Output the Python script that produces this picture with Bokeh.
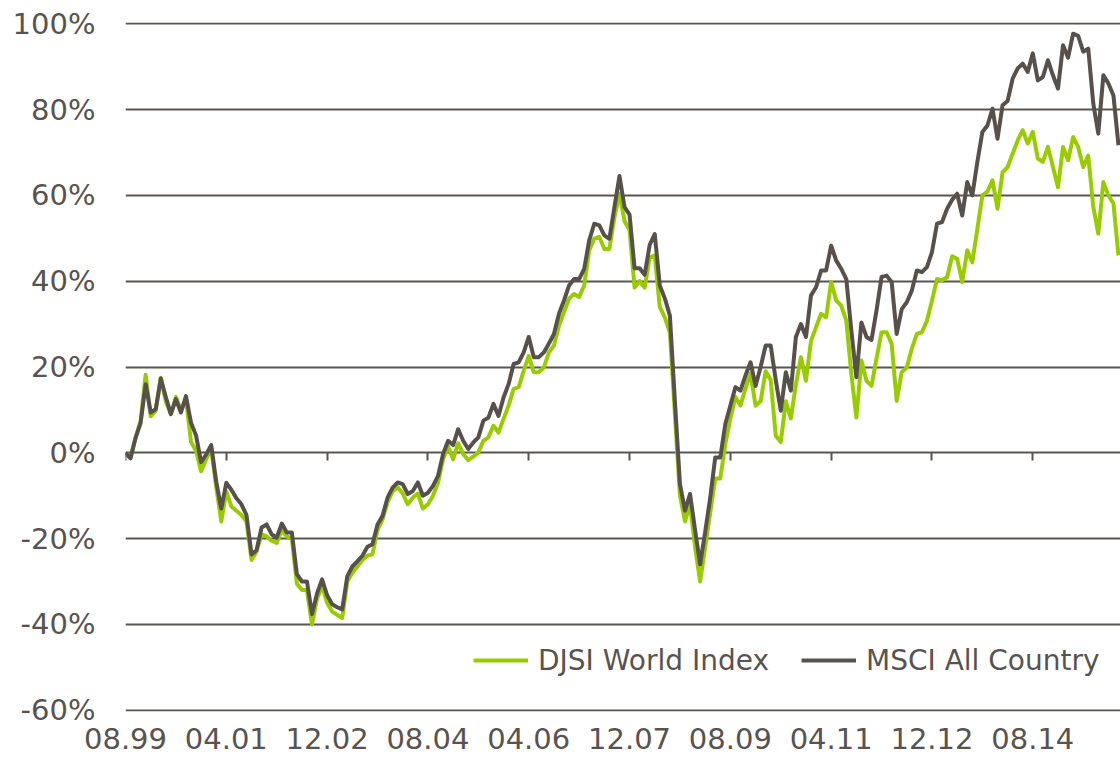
from bokeh.plotting import figure
from bokeh.models import Range1d, LinearAxis, FixedTicker, Legend, LegendItem
from bokeh.embed import file_html
from bokeh.resources import INLINE

# Monthly cumulative performance (%) starting 08.99
djsi = [0, -1, 3.5, 7.5, 18.2, 8.5, 9.8, 17.5, 12, 9,
        13, 10, 12.5, 2.5, 0.5, -4.3, -1.5, 1, -8, -16,
        -9, -12.5, -13.5, -14.5, -16, -25, -23, -19, -19.5, -20.5,
        -21, -18, -19.5, -20, -30.5, -32, -32, -40, -34, -31,
        -35, -37, -37.8, -38.5, -30, -28, -26.5, -25, -24, -23.6,
        -18, -15.5, -11.5, -9, -8, -9.5, -12, -10.5, -9.5, -13,
        -12, -10, -7, -1.5, 1.5, -1.5, 2.2, -0.3, -1.7, -0.9,
        0.1, 2.8, 3.6, 6.3, 4.7, 7.9, 11, 14.9, 15.3, 19.1,
        22.6, 18.8, 18.8, 19.9, 23.4, 25, 29.6, 32.8, 35.9, 37,
        36.3, 39, 47.2, 49.9, 50.3, 47.5, 47.5, 54.9, 60.4, 54,
        52, 38.5, 40, 38.5, 45.5, 46, 34, 31.5, 28, 9,
        -10, -16, -12, -22, -30, -22, -14, -6, -6, 2,
        8, 13, 11, 15, 18.5, 11, 12, 19, 17, 4,
        2.5, 12, 8, 15.9, 22.3, 16.8, 26.1, 29.3, 32.4, 31.6,
        39.8, 35.5, 34.3, 30.8, 18.4, 8.2, 21.5, 16.8, 15.6, 22,
        28.1, 28.1, 25.4, 12.1, 18.8, 19.9, 24.3, 27.7, 28.1, 30.8,
        35.5, 40.5, 40.2, 40.9, 45.8, 45.2, 39.8, 47.2, 44.4, 52.2,
        60, 60.9, 63.5, 56.9, 65.4, 66.6, 69.7, 72.8, 75.2, 72.1,
        74.8, 68.6, 67.8, 71.3, 66.6, 61.9, 71.3, 68.2, 73.6, 71.3,
        66.6, 69.3, 57.3, 51.1, 63.1, 60, 58.1, 46]

msci = [0, -1.3, 3.5, 7, 16, 9.4, 10.2, 17.3, 13, 9,
        12.5, 9.4, 13.2, 7, 4, -2.2, -0.4, 1.8, -6.7, -13,
        -7, -8.6, -10.6, -12, -14.5, -23.7, -22.7, -17.4, -16.7, -19,
        -19.8, -16.5, -18.6, -18.6, -28.3, -30, -30, -37.6, -32.8, -29.5,
        -33.2, -35.3, -36, -36.5, -28.8, -26.5, -25.3, -24, -21.9, -21.3,
        -16.7, -14.7, -10.4, -8.1, -6.9, -7.3, -9.6, -8.9, -6.9, -10,
        -9.3, -7.7, -5.4, -0.3, 2.8, 1.8, 5.5, 2.8, 0.9, 2.4,
        3.6, 7.5, 8.2, 11.4, 8.6, 12.9, 16, 20.7, 21.1, 23.4,
        27, 22.3, 22.3, 23.4, 25.5, 27.7, 32.4, 35.5, 39, 40.5,
        40.5, 42.9, 49.5, 53.4, 53, 50.7, 49.9, 57.3, 64.5, 57.3,
        55.5, 43, 43, 41.5, 48.5, 51, 39, 36, 32, 12,
        -7.3, -13.5, -9.6, -18, -26, -18.5, -10.5, -1.1, -1.1, 6.7,
        11, 15.3, 14.5, 18, 21.1, 15.6, 20, 25, 25, 17,
        9.8, 18.8, 14.5, 27, 30, 27, 36.7, 38.6, 42.5, 42.5,
        48.3, 44.8, 42.9, 40.5, 28.5, 17.6, 30.4, 27, 26.3, 33.2,
        41, 41.3, 39.8, 27.7, 33.5, 35.1, 37.8, 42.5, 42.1, 43.3,
        46.8, 53.4, 53.8, 56.9, 59, 60.4, 55.3, 63.1, 60, 67.8,
        74.8, 76.3, 80.2, 73.2, 81, 82, 87.2, 89.6, 90.7, 88.8,
        93.1, 86.8, 87.6, 91.5, 88, 84.9, 95, 92.1, 97.7, 97.2,
        93.5, 94.2, 81.4, 74.4, 88, 86.1, 83.3, 71.7]

series_names = ["DJSI World Index", "MSCI All Country"]
start_label = "08.99"
x_tick_labels = ["08.99", "04.01", "12.02", "08.04", "04.06",
                 "12.07", "08.09", "04.11", "12.12", "08.14"]
y_ticks = [-60, -40, -20, 0, 20, 40, 60, 80, 100]
y_tick_labels = ["-60%", "-40%", "-20%", "0%", "20%", "40%", "60%", "80%", "100%"]

GREEN = "#99cc00"
DARK = "#57504b"
GRID = "#5a5451"
TEXT = "#595350"
FONT = "DejaVu Sans"


def month_index(lbl):
    mm, yy = lbl.split(".")
    year = 1900 + int(yy) if int(yy) > 50 else 2000 + int(yy)
    m0, y0 = start_label.split(".")
    year0 = 1900 + int(y0) if int(y0) > 50 else 2000 + int(y0)
    return (year - year0) * 12 + int(mm) - int(m0)


months = list(range(len(djsi)))
x_ticks = [month_index(l) for l in x_tick_labels]

p = figure(width=1120, height=762, output_backend="svg", toolbar_location=None,
           x_range=Range1d(0, 197.4), y_range=Range1d(-60.3, 100.3),
           x_axis_type=None,
           min_border_left=125, min_border_right=0,
           min_border_top=22, min_border_bottom=51)
p.outline_line_color = None
p.background_fill_color = "white"
p.border_fill_color = "white"

# y axis
ya = p.yaxis[0]
ya.ticker = FixedTicker(ticks=y_ticks)
ya.major_label_overrides = dict(zip(y_ticks, y_tick_labels))
ya.axis_line_color = None
ya.major_tick_line_color = None
ya.minor_tick_line_color = None
ya.major_tick_out = 0
ya.major_tick_in = 0
ya.major_label_standoff = 30
ya.major_label_text_font = FONT
ya.major_label_text_font_size = "29px"
ya.major_label_text_color = TEXT

p.ygrid.ticker = FixedTicker(ticks=y_ticks)
p.ygrid.grid_line_color = GRID
p.ygrid.grid_line_width = 2

r1 = p.line(months, djsi, line_color=GREEN, line_width=4, line_join="round")
r2 = p.line(months, msci, line_color=DARK, line_width=4, line_join="round")

# tick marks on the 0% line
tick_axis = LinearAxis(fixed_location=0, ticker=FixedTicker(ticks=x_ticks),
                       major_label_overrides={t: "" for t in x_ticks},
                       axis_line_color=None, major_tick_in=0, major_tick_out=8,
                       major_tick_line_width=2, major_tick_line_color=GRID,
                       minor_tick_line_color=None, major_label_standoff=0)
p.add_layout(tick_axis, "below")

# date labels at the bottom
label_axis = LinearAxis(ticker=FixedTicker(ticks=x_ticks),
                        major_label_overrides=dict(zip(x_ticks, x_tick_labels)),
                        axis_line_color=None, major_tick_line_color=None,
                        minor_tick_line_color=None, major_tick_in=0, major_tick_out=0,
                        major_label_standoff=16, major_label_text_font=FONT,
                        major_label_text_font_size="29px", major_label_text_color=TEXT)
p.add_layout(label_axis, "below")

legend = Legend(items=[LegendItem(label=series_names[0], renderers=[r1]),
                       LegendItem(label=series_names[1], renderers=[r2])],
                orientation="horizontal", location=(348, 34),
                padding=0, margin=0, spacing=32, glyph_width=55, glyph_height=34,
                label_height=34, label_standoff=10, border_line_color=None,
                background_fill_alpha=0, label_text_font=FONT,
                label_text_font_size="28px", label_text_color=TEXT)
p.add_layout(legend, "center")

open("out.html", "w").write(file_html(p, INLINE))
